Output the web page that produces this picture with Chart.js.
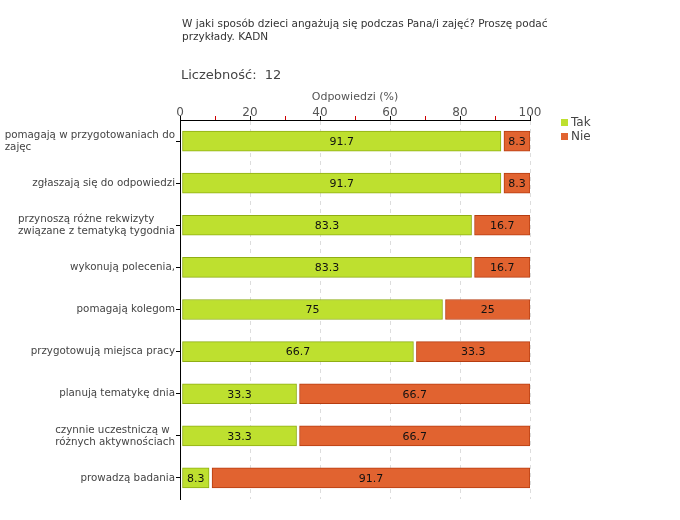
<!DOCTYPE html>
<html>
<head>
<meta charset="utf-8">
<script src="https://cdn.jsdelivr.net/npm/chart.js@4.4.1/dist/chart.umd.min.js"></script>
<style>
  body { margin: 0; background: #fff; }
  #wrap { position: relative; width: 680px; height: 520px; }
  #title { position: absolute; left: 182px; top: 17px; font: 10.5px "DejaVu Sans", sans-serif; color: #333; line-height: 13px; }
  #count { position: absolute; left: 181px; top: 67px; font: 13px "DejaVu Sans", sans-serif; color: #444; }
  canvas { position: absolute; left: 0; top: 0; }
</style>
</head>
<body>
<div id="wrap">
  <canvas id="bar-chart" width="680" height="520"></canvas>
  <div id="title">W jaki sposób dzieci angażują się podczas Pana/i zajęć? Proszę podać<br>przykłady. KADN</div>
  <div id="count">Liczebność:&nbsp; 12</div>
</div>
<script>
var categories = [
  ["pomagają w przygotowaniach do", "zajęc"],
  "zgłaszają się do odpowiedzi",
  ["przynoszą różne rekwizyty", "związane z tematyką tygodnia"],
  "wykonują polecenia,",
  "pomagają kolegom",
  "przygotowują miejsca pracy",
  "planują tematykę dnia",
  ["czynnie uczestniczą w ", "różnych aktywnościach"],
  "prowadzą badania"
];
var takValues = [91.7, 91.7, 83.3, 83.3, 75, 66.7, 33.3, 33.3, 8.3];
var nieValues = [8.3, 8.3, 16.7, 16.7, 25, 33.3, 66.7, 66.7, 91.7];
var xTicks = [0, 20, 40, 60, 80, 100];

var FONT = "DejaVu Sans";

// small gaps between axis / segments, like the original
var gapPlugin = {
  id: 'gaps',
  afterDatasetsUpdate: function(chart) {
    chart.getDatasetMeta(0).data.forEach(function(el) { el.base += 2; });
    chart.getDatasetMeta(1).data.forEach(function(el) { el.base += 3; });
  }
};

// values in the middle of each segment
var valuePlugin = {
  id: 'values',
  afterDatasetsDraw: function(chart) {
    var ctx = chart.ctx;
    ctx.save();
    ctx.font = "11px '" + FONT + "'";
    ctx.fillStyle = "#111";
    ctx.textAlign = "center";
    ctx.textBaseline = "middle";
    chart.data.datasets.forEach(function(ds, i) {
      chart.getDatasetMeta(i).data.forEach(function(el, j) {
        ctx.fillText(String(ds.data[j]), (el.x + el.base) / 2, el.y + 1);
      });
    });
    ctx.restore();
  }
};

// category labels: block right aligned, lines left aligned
var labelPlugin = {
  id: 'catLabels',
  afterDraw: function(chart) {
    var ctx = chart.ctx;
    var y = chart.scales.y;
    ctx.save();
    ctx.font = "10.3px '" + FONT + "'";
    ctx.fillStyle = "#444";
    ctx.textBaseline = "middle";
    ctx.textAlign = "left";
    categories.forEach(function(c, i) {
      var lines = Array.isArray(c) ? c : [c];
      var w = 0;
      lines.forEach(function(l) { w = Math.max(w, ctx.measureText(l).width); });
      var cy = y.getPixelForTick(i);
      var lh = 12;
      var y0 = cy - (lines.length - 1) * lh / 2;
      lines.forEach(function(l, k) {
        ctx.fillText(l, Math.max(0, 175 - w), y0 + k * lh);
      });
    });
    ctx.restore();
  }
};

// legend at the right
var legendPlugin = {
  id: 'sideLegend',
  afterDraw: function(chart) {
    var ctx = chart.ctx;
    ctx.save();
    ctx.font = "12px '" + FONT + "'";
    ctx.textBaseline = "middle";
    chart.data.datasets.forEach(function(ds, i) {
      var ly = 122 + i * 14;
      ctx.fillStyle = ds.backgroundColor;
      ctx.fillRect(561, ly - 3, 7, 7);
      ctx.fillStyle = "#444";
      ctx.fillText(ds.label, 571, ly + 1);
    });
    ctx.restore();
  }
};

var chart = new Chart(document.getElementById("bar-chart"), {
  type: 'bar',
  data: {
    labels: categories,
    datasets: [{
        label: "Tak",
        data: takValues,
        backgroundColor: "#bee02f",
        borderColor: "#8fae14",
        borderWidth: 1,
        borderSkipped: false,
        barThickness: 20
      }, {
        label: "Nie",
        data: nieValues,
        backgroundColor: "#e16330",
        borderColor: "#b63c10",
        borderWidth: 1,
        borderSkipped: false,
        barThickness: 20
      }
    ]
  },
  options: {
    indexAxis: 'y',
    responsive: false,
    animation: false,
    layout: { padding: { top: 90, left: 0, right: 150, bottom: 21 } },
    plugins: {
      legend: { display: false },
      tooltip: { enabled: false }
    },
    scales: {
      x: {
        position: 'top',
        stacked: true,
        min: 0,
        max: 100,
        afterBuildTicks: function(scale) {
          var t = [];
          for (var v = 0; v <= 100; v += 10) t.push({ value: v });
          scale.ticks = t;
        },
        afterFit: function(scale) { scale.height = 30; },
        ticks: {
          autoSkip: false,
          maxRotation: 0,
          padding: -4,
          color: "#555",
          font: { family: FONT, size: 12 },
          callback: function(v) { return xTicks.indexOf(v) >= 0 ? v : ''; }
        },
        grid: {
          color: function(c) {
            var v = c.tick ? c.tick.value : 0;
            return (v % 20 === 0 && v > 0) ? "#dddddd" : "rgba(0,0,0,0)";
          },
          tickColor: function(c) {
            var v = c.tick ? c.tick.value : 0;
            return v % 20 === 0 ? "#000" : "#d00000";
          },
          tickLength: 4,
          tickBorderDash: [],
          lineWidth: 1
        },
        border: { color: "#000", dash: [4, 4], display: true },
        title: {
          display: true,
          text: "Odpowiedzi (%)",
          color: "#555",
          padding: { top: 1, bottom: 0 },
          font: { family: FONT, size: 11 }
        }
      },
      y: {
        stacked: true,
        afterFit: function(scale) { scale.width = 180; },
        ticks: { display: false },
        grid: {
          offset: false,
          drawOnChartArea: false,
          drawTicks: true,
          tickLength: 4,
          color: "#000"
        },
        border: { color: "#000" }
      }
    }
  },
  plugins: [gapPlugin, valuePlugin, labelPlugin, legendPlugin]
});
</script>
</body>
</html>
